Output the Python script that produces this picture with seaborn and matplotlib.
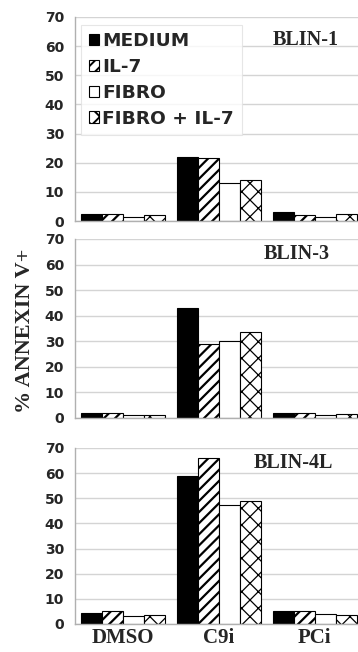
import matplotlib
matplotlib.use("Agg")
import matplotlib.pyplot as plt
import matplotlib.patches as mpatches
import pandas as pd
import seaborn as sns

# data
treatments = ['DMSO', 'C9i', 'PCi']
conditions = ['MEDIUM', 'IL-7', 'FIBRO', 'FIBRO + IL-7']
panels = ['BLIN-1', 'BLIN-3', 'BLIN-4L']

blin1 = {'MEDIUM': [2.5, 22, 3], 'IL-7': [2.5, 21.5, 2],
         'FIBRO': [1.5, 13, 1.5], 'FIBRO + IL-7': [2, 14, 2.5]}
blin3 = {'MEDIUM': [1.8, 43, 2], 'IL-7': [1.8, 29, 2],
         'FIBRO': [1.2, 30, 1], 'FIBRO + IL-7': [1.2, 33.5, 1.5]}
blin4l = {'MEDIUM': [4.5, 59, 5], 'IL-7': [5, 66, 5],
          'FIBRO': [3, 47.5, 4], 'FIBRO + IL-7': [3.5, 49, 3.5]}

faces = ['black', 'white', 'white', 'white']
hatches = ['', '///', '', 'xx']
hatch_lw = [1.4, 1.6, 1.0, 0.9]

sns.set_style('white')
plt.rcParams['hatch.linewidth'] = 1.4
plt.rcParams['font.family'] = ['DejaVu Sans']

fig = plt.figure(figsize=(3.58, 6.52), dpi=100)

# axes rectangles in figure fractions (the right side runs past the image edge, like the scan)
rects = [[0.2095, 0.661, 0.804, 0.313],
         [0.2095, 0.359, 0.804, 0.2745],
         [0.2095, 0.043, 0.804, 0.270]]
title_pos = [(0.80, 0.887), (0.77, 0.916), (0.76, 0.915)]

for i, (name, vals) in enumerate(zip(panels, [blin1, blin3, blin4l])):
    rows = []
    for cond in conditions:
        for t, v in zip(treatments, vals[cond]):
            rows.append({'treatment': t, 'condition': cond, 'value': v})
    df = pd.DataFrame(rows)

    ax = fig.add_axes(rects[i])
    sns.barplot(data=df, x='treatment', y='value', hue='condition',
                hue_order=conditions, order=treatments, palette=faces,
                width=0.875, gap=0, edgecolor='black', linewidth=0.8,
                ax=ax, legend=False)
    for cont, h, hl in zip(ax.containers, hatches, hatch_lw):
        for p in cont:
            p.set_hatch(h)
            if hasattr(p, 'set_hatch_linewidth'):
                p.set_hatch_linewidth(hl)

    ax.set_ylim(0, 70)
    ax.set_xlim(-0.5, 2.5)
    ax.set_yticks(range(0, 71, 10))
    ax.yaxis.grid(True, color='#d4d4d4', linewidth=1.0)
    ax.set_axisbelow(True)
    for s in ['top', 'right']:
        ax.spines[s].set_visible(False)
    for s in ['left', 'bottom']:
        ax.spines[s].set_color('#b0b0b0')
        ax.spines[s].set_linewidth(1.0)
    ax.tick_params(axis='y', length=0, pad=8, labelsize=10)
    for lab in ax.get_yticklabels():
        lab.set_fontweight('bold')
    ax.set_xlabel('')
    ax.set_ylabel('')
    if i < 2:
        ax.set_xticklabels([])
        ax.tick_params(axis='x', length=0)
    else:
        ax.tick_params(axis='x', length=0, pad=3)
        ax.set_xticks(range(3))
        ax.set_xticklabels(treatments, fontfamily='Liberation Serif',
                           fontweight='bold', fontsize=15)

    ax.text(title_pos[i][0], title_pos[i][1], name, transform=ax.transAxes,
            ha='center', va='center', fontfamily='Liberation Serif',
            fontweight='bold', fontsize=14.5)

    if i == 0:
        handles = [mpatches.Patch(facecolor=f, edgecolor='black', hatch=h, linewidth=0.8)
                   for f, h in zip(faces, hatches)]
        leg = ax.legend(handles, conditions, loc='upper left',
                        bbox_to_anchor=(0.015, 0.97), frameon=True, fancybox=False,
                        handlelength=0.55, handleheight=0.55, handletextpad=0.2,
                        labelspacing=0.42, borderpad=0.4, borderaxespad=0.1,
                        prop={'weight': 'bold', 'size': 13.3})
        leg.get_frame().set_edgecolor('#e0e0e0')
        leg.get_frame().set_linewidth(0.8)

fig.text(0.07, 0.492, '% ANNEXIN V+', rotation=90, ha='center', va='center',
         fontfamily='Liberation Serif', fontweight='bold', fontsize=16)

fig.savefig('out.png', dpi=100)
